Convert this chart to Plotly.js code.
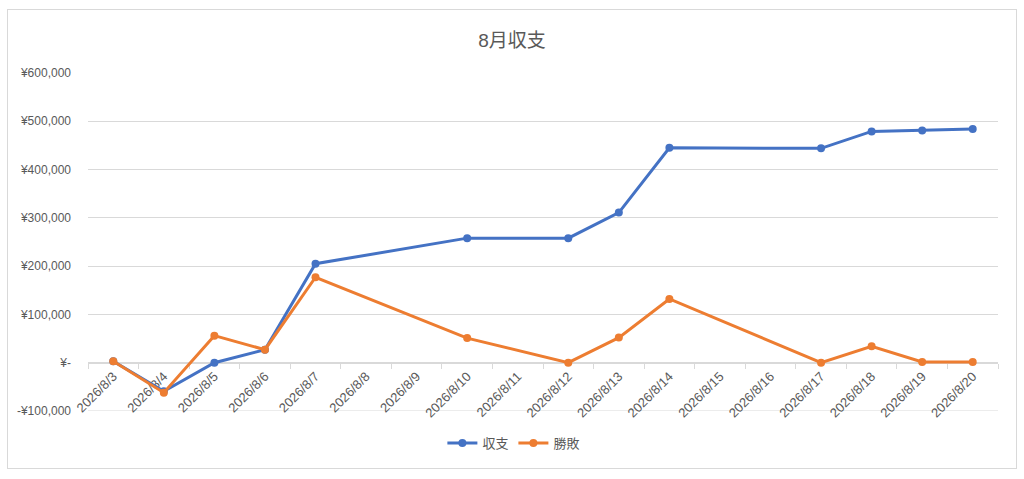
<!DOCTYPE html>
<html>
<head>
<meta charset="utf-8">
<script src="https://cdn.plot.ly/plotly-3.0.1.min.js"></script>
<style>
  body { margin: 0; background: #fff; }
  #frame {
    position: absolute; left: 7px; top: 9px; width: 1008px; height: 458px;
    border: 1px solid #D9D9D9; pointer-events: none;
  }
  #chart { position: absolute; left: 0; top: 0; width: 1024px; height: 479px; }
</style>
</head>
<body>
<div id="chart"></div>
<div id="frame"></div>
<script>
// every day of the period, days with no entry are null
const days = ['2026/8/3', '2026/8/4', '2026/8/5', '2026/8/6', '2026/8/7', '2026/8/8',
  '2026/8/9', '2026/8/10', '2026/8/11', '2026/8/12', '2026/8/13', '2026/8/14',
  '2026/8/15', '2026/8/16', '2026/8/17', '2026/8/18', '2026/8/19', '2026/8/20'];
const balance = [3000, -59000, 0, 27000, 205000, null,
  null, 258000, null, 258000, 311000, 445000,
  null, null, 444000, 479000, 481000, 484000];
const winLoss = [3000, -62000, 56000, 27000, 177000, null,
  null, 51000, null, 0, 52000, 132000,
  null, null, 0, 34000, 1500, 1500];

const yTickVals = [-100000, 0, 100000, 200000, 300000, 400000, 500000, 600000];
const yTickText = ['-¥100,000', '¥-', '¥100,000', '¥200,000', '¥300,000',
  '¥400,000', '¥500,000', '¥600,000'];

const yMin = -100000;
const yMax = 600000;

const fontFamily = 'Liberation Sans, "Noto Sans CJK JP", sans-serif';
const textColor = '#595959';
const gridColor = '#D9D9D9';

const lineTrace = (name, values, color) => ({
  type: 'scatter',
  mode: 'lines+markers',
  name,
  x: days,
  y: values,
  connectgaps: true,
  line: { color, width: 3 },
  marker: { color, size: 8 },
});

const data = [
  lineTrace('収支', balance, '#4472C4'),
  lineTrace('勝敗', winLoss, '#ED7D31'),
];

const layout = {
  width: 1024,
  height: 479,
  margin: { l: 88, r: 26, t: 73, b: 68 },
  paper_bgcolor: '#fff',
  plot_bgcolor: '#fff',
  font: { family: fontFamily, color: textColor, size: 12 },
  title: {
    text: '8月収支',
    font: { family: fontFamily, size: 19, color: textColor },
    x: 0.5,
    xanchor: 'center',
    y: 1 - 40 / 479,
    yref: 'container',
    yanchor: 'middle',
  },
  showlegend: true,
  legend: {
    orientation: 'h',
    x: 0.468,
    xanchor: 'center',
    y: -0.095,
    yanchor: 'middle',
    font: { family: fontFamily, size: 13, color: textColor },
    itemwidth: 30,
  },
  // bottom gridline at the lowest tick, which Plotly skips at the range edge
  shapes: [{
    type: 'line',
    xref: 'paper',
    x0: 0,
    x1: 1,
    yref: 'y',
    y0: yTickVals[0],
    y1: yTickVals[0],
    line: { color: gridColor, width: 1 },
    layer: 'below',
  }],
  xaxis: {
    type: 'category',
    categoryorder: 'array',
    categoryarray: days,
    range: [-0.5, days.length - 0.5],
    tickangle: -45,
    tickson: 'boundaries',
    ticks: 'outside',
    ticklen: 5,
    tickcolor: gridColor,
    showline: true,
    linecolor: gridColor,
    linewidth: 1,
    showgrid: false,
    zeroline: false,
    anchor: 'free',
    position: (0 - yMin) / (yMax - yMin),
    layer: 'below traces',
    automargin: false,
    tickfont: { size: 13, color: textColor },
    fixedrange: true,
  },
  yaxis: {
    range: [yMin, yMax],
    tickvals: yTickVals,
    ticktext: yTickText,
    showgrid: true,
    gridcolor: gridColor,
    gridwidth: 1,
    zeroline: false,
    showline: false,
    ticks: '',
    ticklabelstandoff: 16,
    automargin: false,
    tickfont: { size: 12, color: textColor },
    fixedrange: true,
  },
};

Plotly.newPlot('chart', data, layout, { displayModeBar: false, staticPlot: true });
</script>
</body>
</html>
